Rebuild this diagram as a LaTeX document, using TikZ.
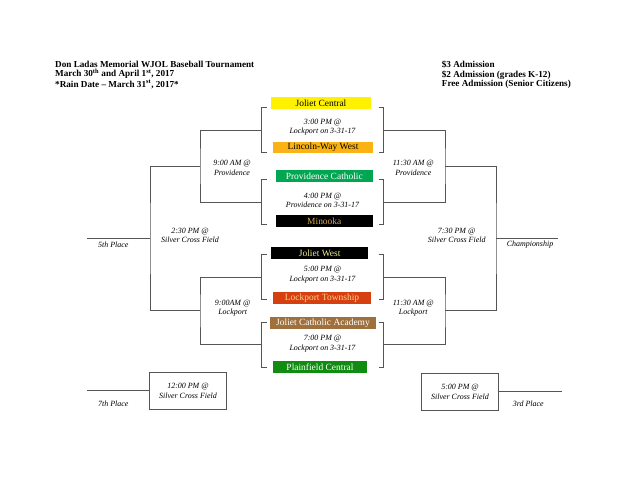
\documentclass[tikz,border=0pt]{standalone}
\usepackage{fontspec}
\setmainfont{Liberation Serif}
\usepackage{xcolor}
\usepackage{tikz}
\usetikzlibrary{positioning}
\definecolor{wirec}{RGB}{85,85,85}
\definecolor{jcyellow}{RGB}{255,242,0}
\definecolor{lwworange}{RGB}{250,178,20}
\definecolor{pcgreen}{RGB}{0,166,81}
\definecolor{mingold}{RGB}{214,166,80}
\definecolor{jwyellow}{RGB}{240,240,150}
\definecolor{ltred}{RGB}{214,64,16}
\definecolor{lttext}{RGB}{255,205,140}
\definecolor{jcabrown}{RGB}{160,112,60}
\definecolor{pfgreen}{RGB}{16,140,16}
\tikzset{
  team/.style={rectangle, inner sep=0pt, minimum height=11.6bp,
    font=\fontsize{9.5}{10}\selectfont},
  game/.style={rectangle, inner sep=0pt, minimum width=121.6bp,
    minimum height=44bp},
  cons/.style={rectangle, draw=wirec, line width=0.8bp, inner sep=0pt,
    minimum height=36.7bp, align=center,
    font=\fontsize{8}{9.5}\selectfont\itshape},
  when/.style={align=center, inner sep=0pt,
    font=\fontsize{8}{9.5}\selectfont\itshape},
  place/.style={inner sep=0pt, font=\fontsize{8}{9.5}\selectfont\itshape},
  head/.style={align=left, inner sep=0pt, anchor=north west,
    font=\fontsize{9.2}{9.3}\selectfont\bfseries},
  wire/.style={draw=wirec, line width=0.8bp}
}
\begin{document}
\begin{tikzpicture}[x=1bp, y=-1bp]
  \fill[white] (0,0) rectangle (640,495);
  \useasboundingbox (0,0) rectangle (640,495);
  % header
  \node[head] (title) at (55,61)
    {Don Ladas Memorial WJOL Baseball Tournament\\
     March 30\textsuperscript{th} and April 1\textsuperscript{st}, 2017\\
     *Rain Date -- March 31\textsuperscript{st}, 2017*};
  \node[head] (prices) at (441.7,61)
    {\$3 Admission\\\$2 Admission (grades K-12)\\Free Admission (Senior Citizens)};
  % first round
  \node[game] (g1) at (322.5,130) {};
  \node[game] (g2) at (322.5,202) {};
  \node[game] (g3) at (322.5,277) {};
  \node[game] (g4) at (322.5,344.7) {};
  \node[team, fill=jcyellow, minimum width=100bp] (jc) at (321,103) {Joliet Central};
  \node[team, fill=lwworange, minimum width=99.4bp] (lww) at (323,147.5) {Lincoln-Way West};
  \node[team, fill=pcgreen, text=white, minimum width=96.7bp] (pc) at (324.3,175.8) {Providence Catholic};
  \node[team, fill=black, text=mingold, minimum width=96.7bp] (min) at (324.3,220.8) {Minooka};
  \node[team, fill=black, text=jwyellow, minimum width=97.3bp] (jw) at (319.7,253) {Joliet West};
  \node[team, fill=ltred, text=lttext, minimum width=97.4bp] (lt) at (322,298) {Lockport Township};
  \node[team, fill=jcabrown, text=white, minimum width=106bp] (jca) at (323,323) {Joliet Catholic Academy};
  \node[team, fill=pfgreen, text=white, minimum width=93.4bp] (pfc) at (320,367) {Plainfield Central};
  \node[when] (t1) at (322.5,127) {3:00 PM @\\Lockport on 3-31-17};
  \node[when] (t2) at (322.5,200.5) {4:00 PM @\\Providence on 3-31-17};
  \node[when] (t3) at (322.5,274.7) {5:00 PM @\\Lockport on 3-31-17};
  \node[when] (t4) at (322.5,343.5) {7:00 PM @\\Lockport on 3-31-17};
  \draw[wire] ([xshift=5bp]g1.north west) -- (g1.north west) -- (g1.south west) -- ([xshift=5bp]g1.south west);
  \draw[wire] ([xshift=-5bp]g1.north east) -- (g1.north east) -- (g1.south east) -- ([xshift=-5bp]g1.south east);
  \draw[wire] ([xshift=5bp]g2.north west) -- (g2.north west) -- (g2.south west) -- ([xshift=5bp]g2.south west);
  \draw[wire] ([xshift=-5bp]g2.north east) -- (g2.north east) -- (g2.south east) -- ([xshift=-5bp]g2.south east);
  \draw[wire] ([xshift=5bp]g3.north west) -- (g3.north west) -- (g3.south west) -- ([xshift=5bp]g3.south west);
  \draw[wire] ([xshift=-5bp]g3.north east) -- (g3.north east) -- (g3.south east) -- ([xshift=-5bp]g3.south east);
  \draw[wire] ([xshift=5bp]g4.north west) -- (g4.north west) -- (g4.south west) -- ([xshift=5bp]g4.south west);
  \draw[wire] ([xshift=-5bp]g4.north east) -- (g4.north east) -- (g4.south east) -- ([xshift=-5bp]g4.south east);
  % second round and finals
  \coordinate (s1w) at (200,166);
  \coordinate (s1e) at (445,166);
  \coordinate (s2w) at (200,310.8);
  \coordinate (s2e) at (445,310.8);
  \coordinate (fw) at (150,238.4);
  \coordinate (fe) at (496,238.4);
  \coordinate (fifth) at (87,238.4);
  \coordinate (champ) at (558,238.4);
  \draw[wire] (g1.west) -| (s1w) |- (g2.west);
  \draw[wire] (g1.east) -| (s1e) |- (g2.east);
  \draw[wire] (g3.west) -| (s2w) |- (g4.west);
  \draw[wire] (g3.east) -| (s2e) |- (g4.east);
  \draw[wire] (s1w) -| (fw) |- (s2w);
  \draw[wire] (s1e) -| (fe) |- (s2e);
  \draw[wire] (fw) -- (fifth);
  \draw[wire] (fe) -- (champ);
  \node[when] (r1) at (232,167.7) {9:00 AM @\\Providence};
  \node[when] (r2) at (413.3,167.7) {11:30 AM @\\Providence};
  \node[when] (r3) at (232.7,308) {9:00AM @\\Lockport};
  \node[when] (r4) at (413.3,308) {11:30 AM @\\Lockport};
  \node[when] (r5) at (190,235.5) {2:30 PM @\\Silver Cross Field};
  \node[when] (r6) at (456.7,235.5) {7:30 PM @\\Silver Cross Field};
  \node[place] (l5) at (113.3,245) {5th Place};
  \node[place] (lc) at (530,245) {Championship};
  % consolation
  \node[cons, minimum width=77.7bp] (c7) at (188,390.7) {12:00 PM @\\Silver Cross Field};
  \node[cons, minimum width=76.6bp] (c3) at (460,391.7) {5:00 PM @\\Silver Cross Field};
  \coordinate (seventh) at (87,390.7);
  \coordinate (third) at (562,391.7);
  \draw[wire] (c7.west) -- (seventh);
  \draw[wire] (c3.east) -- (third);
  \node[place] (l7) at (113.3,403.3) {7th Place};
  \node[place] (l3) at (528.3,403.3) {3rd Place};
\end{tikzpicture}
\end{document}
